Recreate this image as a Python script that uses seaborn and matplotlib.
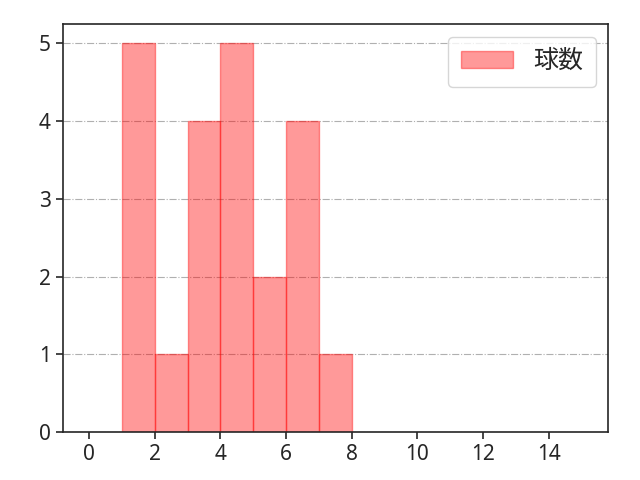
import matplotlib
matplotlib.use('Agg')
import matplotlib.pyplot as plt
import seaborn as sns
import numpy as np

# histogram data
bin_edges = [1, 2, 3, 4, 5, 6, 7, 8]
counts = [5, 1, 4, 5, 2, 4, 1]
label = '球数'

sns.set_style('ticks')
plt.rcParams['font.family'] = ['Noto Sans', 'Noto Sans CJK JP', 'DejaVu Sans']
plt.rcParams['font.size'] = 15
plt.rcParams['xtick.labelsize'] = 15
plt.rcParams['ytick.labelsize'] = 15

centers = [(a + b) / 2 for a, b in zip(bin_edges[:-1], bin_edges[1:])]

fig, ax = plt.subplots(figsize=(6.4, 4.8), dpi=100)
sns.histplot(x=centers, weights=counts, bins=bin_edges, ax=ax,
             color=(1, 0, 0, 0.4), edgecolor=(1, 0, 0, 0.4), alpha=None,
             linewidth=1, label=label)

ax.set_xlim(-0.8, 15.8)
ax.set_xticks(np.arange(0, 15, 2))
ax.set_yticks(range(0, 6))
ax.set_ylabel('')
ax.set_xlabel('')
ax.grid(axis='y', linestyle='-.', color='#b0b0b0', linewidth=0.8)
ax.set_axisbelow(True)
for s in ax.spines.values():
    s.set_linewidth(1.2)
ax.tick_params(width=1.2, length=5)
ax.legend(loc='upper right', fontsize=18, borderpad=0.5, handlelength=2.1)

plt.subplots_adjust(left=0.098, right=0.95, top=0.95, bottom=0.1)
plt.savefig('out.png', dpi=100)
plt.close(fig)
